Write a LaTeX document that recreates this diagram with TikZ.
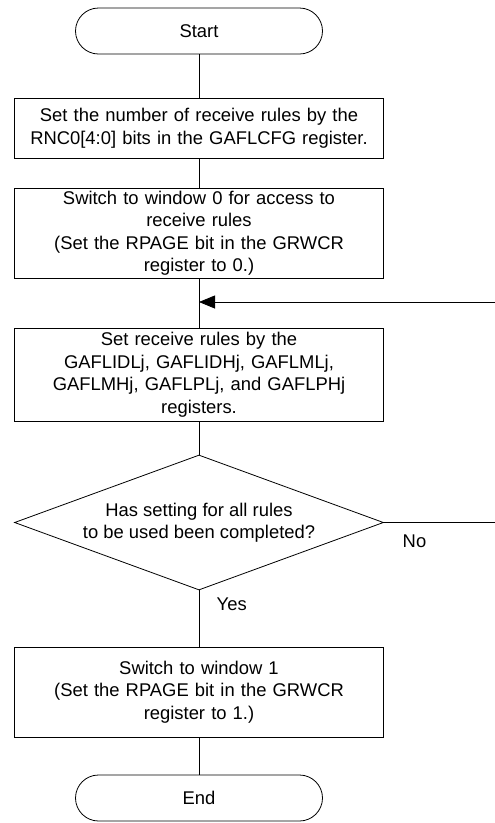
\documentclass[tikz,border=0pt]{standalone}
\usepackage{fontspec}
\setmainfont{Liberation Sans}
\usetikzlibrary{positioning,arrows.meta,shapes.geometric}
\tikzset{
  >={Triangle[length=16pt,width=13pt]},
}

\begin{document}
\begin{tikzpicture}[
  x=1pt,y=-1pt,
  line width=0.8pt,
  every node/.style={font=\fontsize{18.4}{22.5}\selectfont},
  term/.style={draw,rectangle,rounded corners=23pt,minimum width=247pt,minimum height=46pt},
  proc/.style={draw,rectangle,minimum width=369pt,text width=360pt,align=center,inner sep=0pt},
  decide/.style={draw,diamond,aspect=2.73,minimum width=369pt,minimum height=135pt,inner sep=0pt,align=center}
]
\useasboundingbox (0,0) rectangle (495,823);

% Steps
\node[term] (start) at (199,31) {Start};
\node[proc,minimum height=60pt] (rnc) at (199,128) {Set the number of receive rules by the\\RNC0[4:0] bits in the GAFLCFG register.};
\node[proc,minimum height=90pt] (win0) at (199,233) {Switch to window 0 for access to\\receive rules\\(Set the RPAGE bit in the GRWCR\\register to 0.)};
\node[proc,minimum height=93pt] (rules) at (199,374.5) {Set receive rules by the\\GAFLIDLj, GAFLIDHj, GAFLMLj,\\GAFLMHj, GAFLPLj, and GAFLPHj\\registers.};
\node[decide] (check) at (199,522.5) {Has setting for all rules\\to be used been completed?};
\node[proc,minimum height=90pt] (win1) at (199,692) {Switch to window 1\\(Set the RPAGE bit in the GRWCR\\register to 1.)};
\node[term] (stop) at (199,798) {End};

% Loop ends at the right edge
\coordinate (noend) at (495,522.5);
\coordinate (backin) at (495,302);

% Flow
\draw (start) -- (rnc);
\draw (rnc) -- (win0);
\draw (win0) -- (rules);
\draw (rules) -- (check);
\draw (check) -- (win1);
\draw (win1) -- (stop);
\draw (check.east) -- (noend);
\draw[->] (backin) -- (win0.south |- backin);

% Labels
\node[anchor=west] (yes) at (213,604) {Yes};
\node[anchor=west] (no) at (399,541) {No};

\end{tikzpicture}
\end{document}
